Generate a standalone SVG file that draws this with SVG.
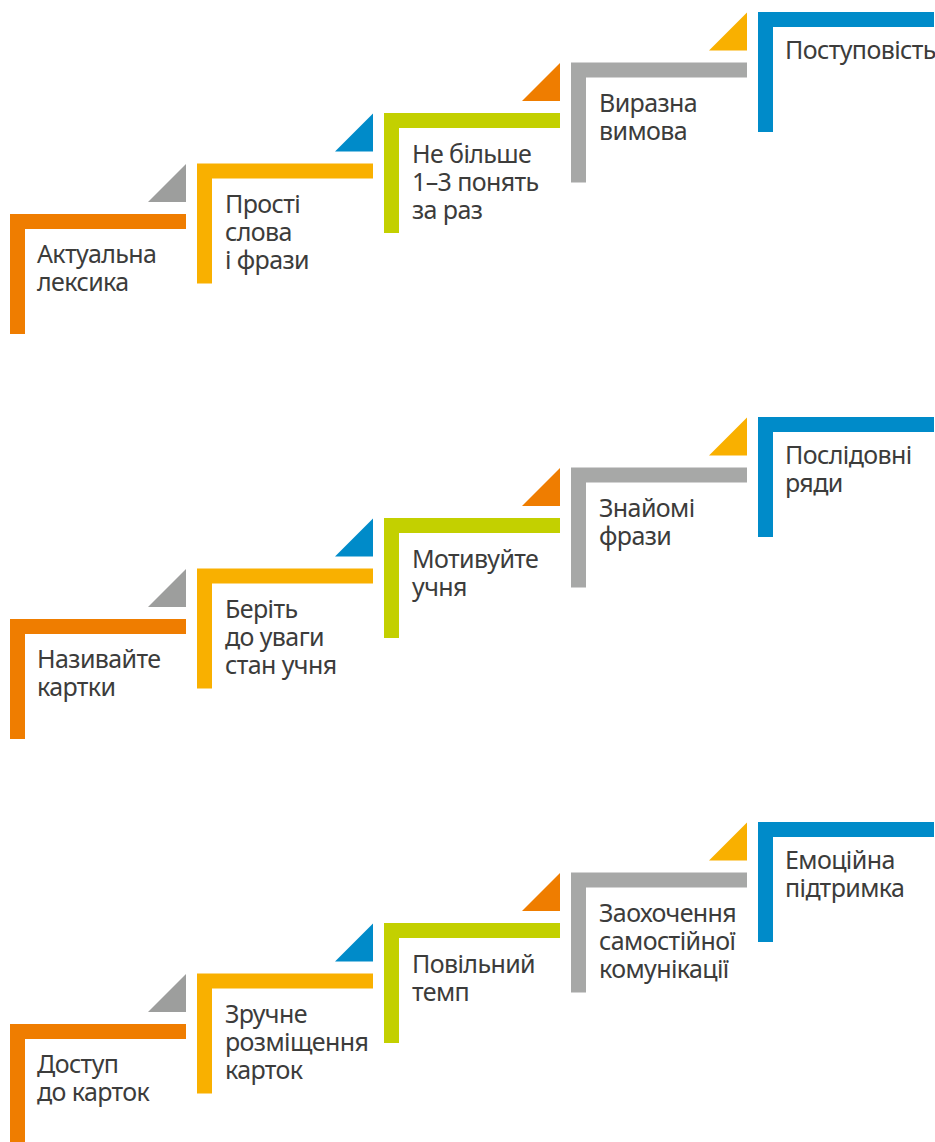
<svg xmlns="http://www.w3.org/2000/svg" width="935" height="1142" viewBox="0 0 935 1142">
<defs>
<style>
.t{font-family:"Noto Sans","Open Sans","Liberation Sans",sans-serif;font-size:25px;letter-spacing:-0.6px;fill:#3c3c3b}
.o{fill:#EF7D00}.y{fill:#F9B000}.g{fill:#C3D000}.s{fill:#A7A8A7}.b{fill:#008BC9}.st{fill:#9D9E9D}
</style>
<path id="L" d="M0,0 H176 V15 H15 V120 H0 Z"/>
<path id="T" d="M176,-50 V-12 H138 Z"/>
</defs>
<rect width="935" height="1142" fill="#fff"/>
<g id="connectors">
<use href="#T" class="st" x="10" y="214"/>
<use href="#T" class="b" x="197" y="163.5"/>
<use href="#T" class="o" x="384" y="113"/>
<use href="#T" class="y" x="571" y="62.5"/>
<use href="#T" class="st" x="10" y="619"/>
<use href="#T" class="b" x="197" y="568.5"/>
<use href="#T" class="o" x="384" y="518"/>
<use href="#T" class="y" x="571" y="467.5"/>
<use href="#T" class="st" x="10" y="1024"/>
<use href="#T" class="b" x="197" y="973.5"/>
<use href="#T" class="o" x="384" y="923"/>
<use href="#T" class="y" x="571" y="872.5"/>
</g>
<g id="r1s1" transform="translate(10,214)"><use href="#L" class="o"/><text class="t" x="27" y="49">Актуальна<tspan x="27" dy="28">лексика</tspan></text></g>
<g id="r1s2" transform="translate(197,163.5)"><use href="#L" class="y"/><text class="t" x="28" y="49">Прості<tspan x="28" dy="28">слова</tspan><tspan x="28" dy="28">і фрази</tspan></text></g>
<g id="r1s3" transform="translate(384,113)"><use href="#L" class="g"/><text class="t" x="28" y="50">Не більше<tspan x="28" dy="28">1–3 понять</tspan><tspan x="28" dy="28">за раз</tspan></text></g>
<g id="r1s4" transform="translate(571,62.5)"><use href="#L" class="s"/><text class="t" x="28" y="49">Виразна<tspan x="28" dy="28">вимова</tspan></text></g>
<g id="r1s5" transform="translate(758,12)"><use href="#L" class="b"/><text class="t" x="27" y="47">Поступовість</text></g>

<g id="r2s1" transform="translate(10,619)"><use href="#L" class="o"/><text class="t" x="27" y="49">Називайте<tspan x="27" dy="28">картки</tspan></text></g>
<g id="r2s2" transform="translate(197,568.5)"><use href="#L" class="y"/><text class="t" x="28" y="49">Беріть<tspan x="28" dy="28">до уваги</tspan><tspan x="28" dy="28">стан учня</tspan></text></g>
<g id="r2s3" transform="translate(384,518)"><use href="#L" class="g"/><text class="t" x="28" y="50">Мотивуйте<tspan x="28" dy="28">учня</tspan></text></g>
<g id="r2s4" transform="translate(571,467.5)"><use href="#L" class="s"/><text class="t" x="28" y="49">Знайомі<tspan x="28" dy="28">фрази</tspan></text></g>
<g id="r2s5" transform="translate(758,417)"><use href="#L" class="b"/><text class="t" x="27" y="47">Послідовні<tspan x="27" dy="28">ряди</tspan></text></g>

<g id="r3s1" transform="translate(10,1024)"><use href="#L" class="o"/><text class="t" x="27" y="49">Доступ<tspan x="27" dy="28">до карток</tspan></text></g>
<g id="r3s2" transform="translate(197,973.5)"><use href="#L" class="y"/><text class="t" x="28" y="49">Зручне<tspan x="28" dy="28">розміщення</tspan><tspan x="28" dy="28">карток</tspan></text></g>
<g id="r3s3" transform="translate(384,923)"><use href="#L" class="g"/><text class="t" x="28" y="50">Повільний<tspan x="28" dy="28">темп</tspan></text></g>
<g id="r3s4" transform="translate(571,872.5)"><use href="#L" class="s"/><text class="t" x="28" y="49">Заохочення<tspan x="28" dy="28">самостійної</tspan><tspan x="28" dy="28">комунікації</tspan></text></g>
<g id="r3s5" transform="translate(758,822)"><use href="#L" class="b"/><text class="t" x="27" y="47">Емоційна<tspan x="27" dy="28">підтримка</tspan></text></g>
</svg>
